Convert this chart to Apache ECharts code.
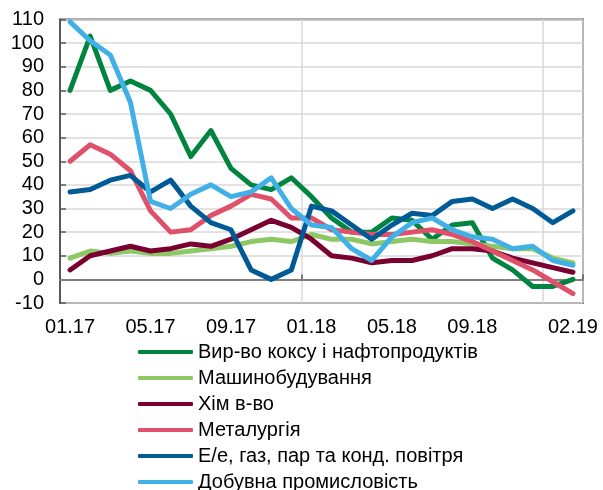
<!DOCTYPE html>
<html>
<head>
<meta charset="utf-8">
<script src="https://cdn.jsdelivr.net/npm/echarts@6/dist/echarts.min.js"></script>
<style>
html,body{margin:0;padding:0;background:#fff;}
#c{width:603px;height:490px;}
</style>
</head>
<body>
<div id="c"></div>
<script>
const categories = ['01.17','02.17','03.17','04.17','05.17','06.17','07.17','08.17','09.17','10.17','11.17','12.17',
  '01.18','02.18','03.18','04.18','05.18','06.18','07.18','08.18','09.18','10.18','11.18','12.18','01.19','02.19'];
const yTicks = [-10, 110, 10];

const coke = [80, 103, 80, 84, 80, 70, 52, 63, 47, 40, 38, 43, 35, 26, 20, 20, 26, 25, 17, 23, 24, 9, 4, -3, -3, 0];
const machinery = [9, 12, 11, 12, 11, 11, 12, 13, 14, 16, 17, 16, 19, 17, 17, 15, 16, 17, 16, 16, 15, 14, 13, 13, 9, 7];
const chemical = [4, 10, 12, 14, 12, 13, 15, 14, 17, 21, 25, 22, 17, 10, 9, 7, 8, 8, 10, 13, 13, 12, 9, 7, 5, 3];
const metallurgy = [50, 57, 53, 46, 29, 20, 21, 27, 31, 36, 34, 26, 26, 21, 20, 19, 19, 20, 21, 19, 16, 12, 8, 4, -1, -6];
const energy = [37, 38, 42, 44, 37, 42, 31, 24, 21, 4, 0, 4, 31, 29, 23, 17, 23, 28, 27, 33, 34, 30, 34, 30, 24, 29];
const mining = [109, 101, 95, 75, 33, 30, 36, 40, 35, 37, 43, 30, 23, 22, 13, 8, 18, 24, 26, 21, 18, 17, 13, 14, 8, 6];

const names = ['Вир-во коксу і нафтопродуктів','Машинобудування','Хім в-во','Металургія','Е/е, газ, пар та конд. повітря','Добувна промисловість'];
const colors = ['#00843F','#8DC865','#7A0032','#E0506A','#005A96','#41B0E6'];
const datasets = [coke, machinery, chemical, metallurgy, energy, mining];

const yearMarks = [12, 24];
const labelIdx = [0, 4, 8, 12, 16, 20, 25];
const FONT = 'Liberation Sans, Arial, sans-serif';

const series = datasets.map((d, i) => ({
  name: names[i],
  type: 'line',
  data: d,
  showSymbol: false,
  symbol: 'none',
  lineStyle: { width: 5, color: colors[i], cap: 'round', join: 'round' },
  itemStyle: { color: colors[i] },
  z: 3 + i
}));
series[0].markLine = {
  silent: true,
  symbol: 'none',
  label: { show: false },
  lineStyle: { color: '#7f7f7f', width: 2, type: 'solid' },
  data: [{ yAxis: 0 }],
  z: 2
};

const chart = echarts.init(document.getElementById('c'));
chart.setOption({
  animation: false,
  textStyle: { fontFamily: FONT },
  grid: {
    left: 60, right: 20, top: 19.5, bottom: 187,
    show: true, borderColor: '#595959', borderWidth: 2, containLabel: false
  },
  xAxis: {
    type: 'category',
    data: categories,
    boundaryGap: true,
    axisLine: { show: true, onZero: true, lineStyle: { color: '#7f7f7f', width: 2 } },
    axisTick: { show: true, inside: true, length: 5, interval: (i) => yearMarks.includes(i), lineStyle: { color: '#595959', width: 1.5 } },
    splitLine: { show: true, interval: (i) => yearMarks.includes(i), lineStyle: { color: '#D9D9D9', width: 1.5 } },
    axisLabel: {
      interval: (i) => labelIdx.includes(i),
      margin: 14,
      fontSize: 20,
      color: '#000',
      fontFamily: FONT
    }
  },
  yAxis: {
    type: 'value',
    min: yTicks[0], max: yTicks[1], interval: yTicks[2],
    axisLine: { show: true, lineStyle: { color: '#595959', width: 2 } },
    axisTick: { show: true, inside: true, length: 6, lineStyle: { color: '#595959', width: 1.5 } },
    splitLine: { show: true, lineStyle: { color: '#D9D9D9', width: 1.5 } },
    axisLabel: { margin: 16, fontSize: 20, color: '#000', fontFamily: FONT }
  },
  legend: {
    orient: 'vertical',
    left: 138, top: 342, height: 170,
    padding: 0,
    itemWidth: 55, itemHeight: 4,
    itemGap: 6,
    icon: 'roundRect',
    textStyle: { fontSize: 20, color: '#000', lineHeight: 19, padding: [0,0,0,0], fontFamily: FONT },
    data: names
  },
  series: series
});
</script>
</body>
</html>
